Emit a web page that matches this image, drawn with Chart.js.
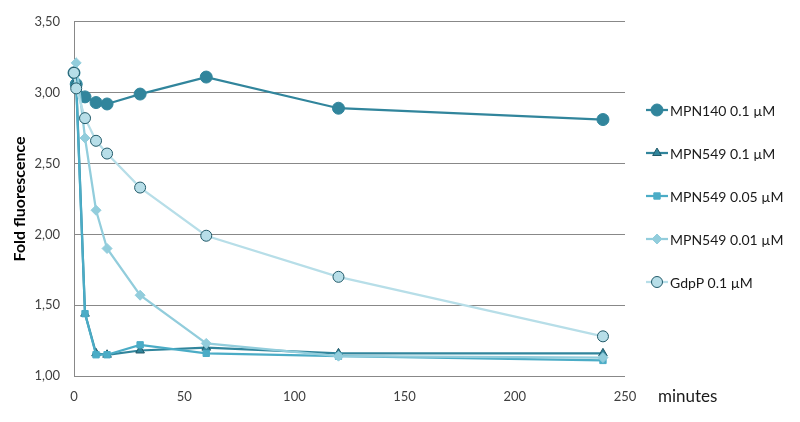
<!DOCTYPE html>
<html>
<head>
<meta charset="utf-8">
<script src="https://cdn.jsdelivr.net/npm/chart.js@4.4.1/dist/chart.umd.min.js"></script>
<style>
  html, body { margin: 0; padding: 0; background: #fff; }
  #wrap { width: 800px; height: 422px; }
</style>
</head>
<body>
<div id="wrap"><canvas id="chart" width="800" height="422"></canvas></div>
<script>
// --- DATOS ---
const minutes = [0, 1, 5, 10, 15, 30, 60, 120, 240];
const seriesNames = ["MPN140 0.1 µM", "MPN549 0.1 µM", "MPN549 0.05 µM", "MPN549 0.01 µM", "GdpP 0.1 µM"];
const mpn140_01 = [3.14, 3.06, 2.97, 2.93, 2.92, 2.99, 3.11, 2.89, 2.81];
const mpn549_01 = [3.14, 3.08, 1.44, 1.16, 1.15, 1.18, 1.20, 1.16, 1.16];
const mpn549_005 = [3.13, 3.05, 1.44, 1.15, 1.15, 1.22, 1.16, 1.14, 1.11];
const mpn549_001 = [3.14, 3.21, 2.68, 2.17, 1.90, 1.57, 1.23, 1.14, 1.13];
const gdpp_01 = [3.14, 3.03, 2.82, 2.66, 2.57, 2.33, 1.99, 1.70, 1.28];
const yTicks = [1.0, 1.5, 2.0, 2.5, 3.0, 3.5];
const xTicks = [0, 50, 100, 150, 200, 250];

const FONT = "Lato, 'Open Sans', sans-serif";
const toXY = vals => vals.map((v, i) => ({ x: minutes[i], y: v }));

// --- ESTILOS DE SERIES ---
const styles = [
    { line: "#31859C", fill: "#31859C", border: "#31859C", point: "circle", r: 6, bw: 1, order: 5 },
    { line: "#31859C", fill: "#31859C", border: "#215968", point: "triangle", r: 5, bw: 1, order: 4 },
    { line: "#4BACC6", fill: "#4BACC6", border: "#4BACC6", point: "rect", r: 4.5, bw: 1, order: 3 },
    { line: "#92CDDC", fill: "#92CDDC", border: "#92CDDC", point: "rectRot", r: 5, bw: 1, order: 2 },
    { line: "#B7DEE8", fill: "#B7DEE8", border: "#215968", point: "circle", r: 5.5, bw: 1, order: 1 }
];
const values = [mpn140_01, mpn549_01, mpn549_005, mpn549_001, gdpp_01];

const datasets = values.map((vals, i) => ({
    label: seriesNames[i],
    data: toXY(vals),
    borderColor: styles[i].line,
    backgroundColor: styles[i].fill,
    borderWidth: 2.25,
    pointStyle: styles[i].point,
    pointRadius: styles[i].r,
    pointBackgroundColor: styles[i].fill,
    pointBorderColor: styles[i].border,
    pointBorderWidth: styles[i].bw,
    tension: 0,
    clip: false,
    order: styles[i].order
}));

// --- LEYENDA Y TÍTULO X (plugin) ---
const legendYs = [110, 153, 196, 239, 282];
const extras = {
    id: "extras",
    afterDraw(chart) {
        const ctx = chart.ctx;
        ctx.save();
        chart.data.datasets.forEach((ds, i) => {
            const y = legendYs[i];
            ctx.strokeStyle = ds.borderColor;
            ctx.lineWidth = 2.25;
            ctx.beginPath();
            ctx.moveTo(646, y);
            ctx.lineTo(668, y);
            ctx.stroke();
            ctx.fillStyle = ds.pointBackgroundColor;
            ctx.strokeStyle = ds.pointBorderColor;
            ctx.lineWidth = ds.pointBorderWidth;
            Chart.helpers.drawPoint(ctx, {
                pointStyle: ds.pointStyle, radius: ds.pointRadius, rotation: 0, borderWidth: ds.pointBorderWidth
            }, 657, y);
            ctx.fillStyle = "#1a1a1a";
            ctx.font = "14px " + FONT;
            ctx.textAlign = "left";
            ctx.textBaseline = "middle";
            ctx.fillText(ds.label, 670, y + 1);
        });
        // título del eje x, a la derecha de las etiquetas
        ctx.fillStyle = "#1a1a1a";
        ctx.font = "17px " + FONT;
        ctx.textAlign = "left";
        ctx.textBaseline = "middle";
        ctx.fillText("minutes", 658, 397);
        ctx.restore();
    }
};

new Chart(document.getElementById("chart"), {
    type: "line",
    data: { datasets },
    plugins: [extras],
    options: {
        responsive: false,
        animation: false,
        layout: { padding: { top: 11, right: 175, bottom: 0, left: 0 } },
        plugins: { legend: { display: false }, tooltip: { enabled: false } },
        scales: {
            x: {
                type: "linear",
                min: 0, max: 250,
                afterFit: s => { s.height = 46; },
                afterBuildTicks: s => { s.ticks = xTicks.map(v => ({ value: v })); },
                grid: { display: false, drawTicks: false },
                border: { display: false },
                ticks: { padding: 13, color: "#404040", font: { family: FONT, size: 13 } }
            },
            y: {
                min: 1, max: 3.5,
                afterFit: s => { s.width = 74; },
                afterBuildTicks: s => { s.ticks = yTicks.map(v => ({ value: v })); },
                grid: { color: "#888888", lineWidth: 1, drawTicks: false },
                border: { display: true, color: "#888888", width: 1 },
                ticks: {
                    padding: 14, color: "#404040", font: { family: FONT, size: 13 },
                    callback: v => v.toFixed(2).replace(".", ",")
                },
                title: {
                    display: true, text: "Fold fluorescence", color: "#000",
                    font: { family: FONT, size: 16, weight: "bold" },
                    padding: { top: 10, bottom: 0 }
                }
            }
        }
    }
});
</script>
</body>
</html>
